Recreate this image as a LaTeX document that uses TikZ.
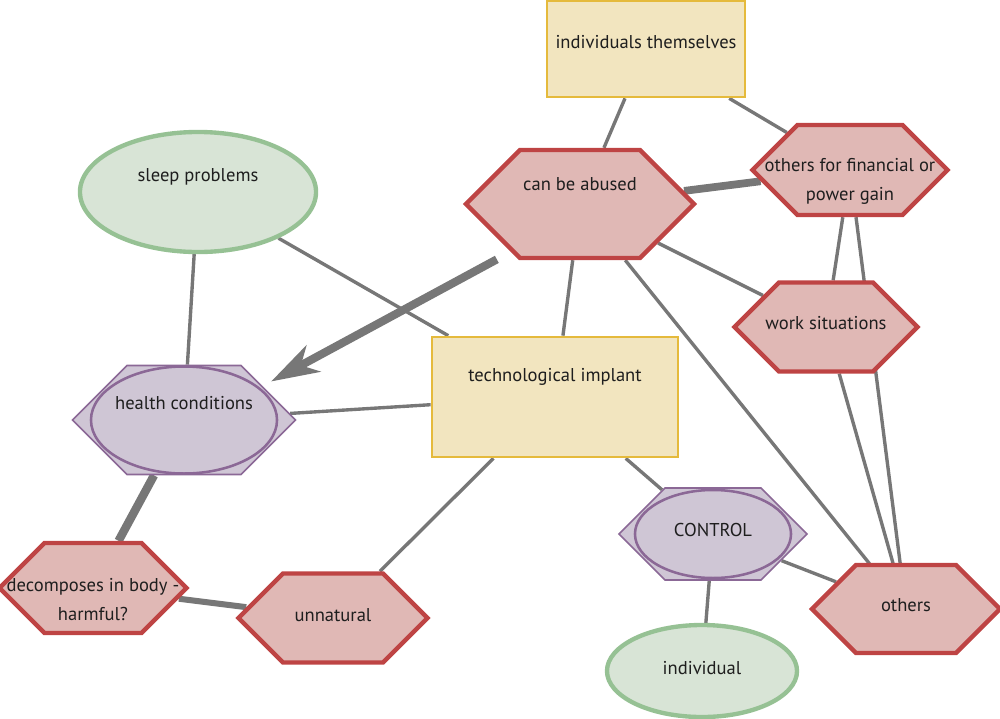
\documentclass[tikz,border=0pt]{standalone}
\usepackage{fontspec}
\setmainfont{PT Sans}
\usetikzlibrary{shapes.geometric,shapes.symbols,arrows.meta,calc,backgrounds}

\definecolor{edgegray}{HTML}{777777}
\definecolor{redfill}{HTML}{E0B8B5}
\definecolor{redline}{HTML}{BE4444}
\definecolor{purplefill}{HTML}{CFC6D5}
\definecolor{purpleline}{HTML}{8B6896}
\definecolor{greenfill}{HTML}{D8E4D6}
\definecolor{greenline}{HTML}{96C194}
\definecolor{yellowfill}{HTML}{F2E5BF}
\definecolor{yellowline}{HTML}{E5BA3C}
\definecolor{textcol}{HTML}{1E1E1E}

\tikzset{
	hexred/.style={signal, signal to=east and west, signal pointer angle=90, draw=redline, fill=redfill, line width=3.1pt, inner sep=0pt},
	hexpurple/.style={signal, signal to=east and west, signal pointer angle=90, draw=purpleline, fill=purplefill, line width=1.2pt, inner sep=0pt},
	ellpurple/.style={ellipse, draw=purpleline, line width=1.8pt, inner sep=0pt},
	ellgreen/.style={ellipse, draw=greenline, fill=greenfill, line width=3.1pt, inner sep=0pt},
	boxyellow/.style={rectangle, draw=yellowline, fill=yellowfill, line width=1.9pt, inner sep=0pt},
	link/.style={draw=edgegray, line width=2.4pt},
	thicklink/.style={draw=edgegray, line width=5.5pt},
	bigarrow/.style={draw=edgegray, line width=5.8pt, -{Stealth[length=34pt,width=21pt,inset=10pt]}},
	every label/.style={text=textcol, font=\fontsize{13.2}{20.6}\selectfont, align=center}
}

\begin{document}
\begin{tikzpicture}[x=0.025cm, y=-0.025cm]
	\useasboundingbox (0,0) rectangle (1000,718);

	\node[boxyellow, minimum width=4.95cm, minimum height=2.4cm, label={[yshift=5pt]center:individuals themselves}] (themselves) at (646,49) {};
	\node[ellgreen, minimum width=5.9cm, minimum height=3cm, label={[yshift=11pt]center:sleep problems}] (sleep) at (198,192) {};
	\node[hexred, minimum width=5.7cm, minimum height=2.7cm, label={[yshift=14pt]center:can be abused}] (abused) at (580,204) {};
	\node[hexred, minimum width=4.875cm, minimum height=2.25cm, label={[yshift=-8pt]center:others for financial or\\power gain}] (financial) at (850,170) {};
	\node[hexred, minimum width=4.575cm, minimum height=2.225cm, label={[yshift=3pt]center:work situations}] (work) at (826,327) {};

	\node[hexpurple, minimum width=5.575cm, minimum height=2.725cm] (health) at (184,420) {};
	\node[ellpurple, minimum width=4.65cm, minimum height=2.675cm, label={[yshift=12pt]center:health conditions}] (healthring) at (184,420) {};

	\node[boxyellow, minimum width=6.15cm, minimum height=3cm, label={[yshift=14pt]center:technological implant}] (implant) at (555,397) {};

	\node[hexpurple, minimum width=4.7cm, minimum height=2.3cm] (control) at (713,534) {};
	\node[ellpurple, minimum width=3.9cm, minimum height=2.2cm, label={[yshift=3pt]center:CONTROL}] (controlring) at (713,534) {};

	\node[hexred, minimum width=4.7cm, minimum height=2.2cm, label={[yshift=3pt]center:others}] (others) at (906,609) {};
	\node[ellgreen, minimum width=4.75cm, minimum height=2.3cm, label={[yshift=2pt]center:individual}] (individual) at (702,671) {};
	\node[hexred, minimum width=4.675cm, minimum height=2.25cm, label={[yshift=-8pt]center:decomposes in body -\\harmful?}] (decomposes) at (93,588) {};
	\node[hexred, minimum width=4.725cm, minimum height=2.225cm, label={[yshift=2pt]center:unnatural}] (unnatural) at (333,618) {};

	\begin{scope}[on background layer]
		\draw[link] (themselves) -- (abused);
		\draw[link] (themselves) -- (financial);
		\draw[thicklink] (abused) -- (financial);
		\draw[link] (abused) -- (work);
		\draw[link] (abused) -- (implant);
		\draw[link] (abused) -- (others);
		\draw[link] (financial) -- (work);
		\draw[link] (financial) -- (others);
		\draw[link] (work) -- (others);
		\draw[link] (sleep) -- (implant);
		\draw[link] (sleep) -- (health);
		\draw[link] (health) -- (implant);
		\draw[thicklink, line width=6pt] (health) -- (decomposes);
		\draw[thicklink, line width=4.3pt] (decomposes) -- (unnatural);
		\draw[link] (implant) -- (unnatural);
		\draw[link] (implant) -- (control);
		\draw[link] (control) -- (individual);
		\draw[link] (control) -- (others);
	\end{scope}

	\draw[bigarrow] ($(abused)!0.21!(health)+(0,10)$) -- ($(abused)!0.78!(health)+(0,9)$);
\end{tikzpicture}
\end{document}
